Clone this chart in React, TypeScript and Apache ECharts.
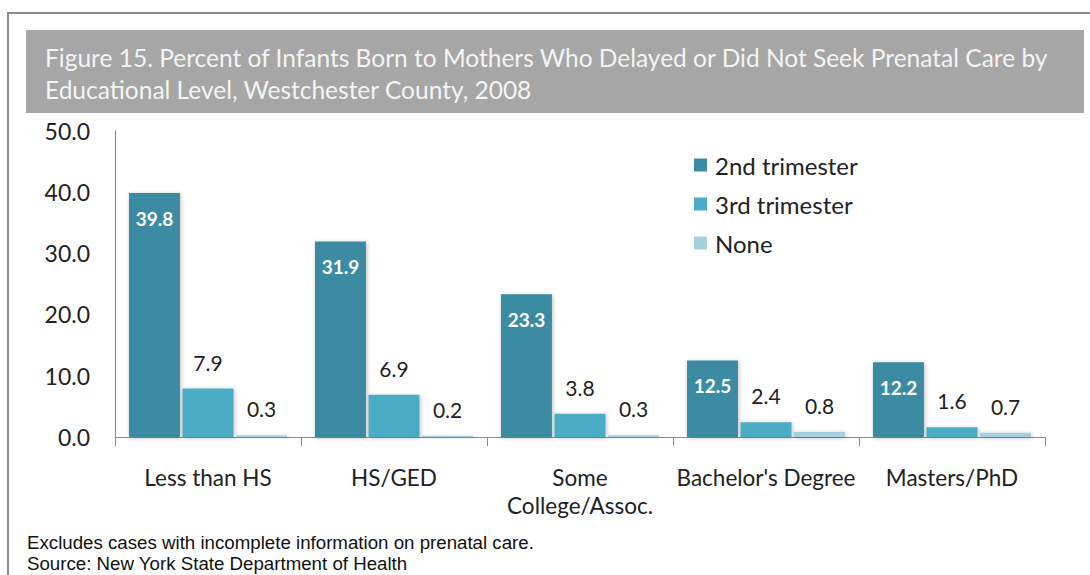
import React, { useEffect, useRef } from "react";
import * as echarts from "echarts";

const categories = ["Less than HS", "HS/GED", "Some\nCollege/Assoc.", "Bachelor's Degree", "Masters/PhD"];
const seriesNames = ["2nd trimester", "3rd trimester", "None"];
const secondTrimester = [39.8, 31.9, 23.3, 12.5, 12.2];
const thirdTrimester = [7.9, 6.9, 3.8, 2.4, 1.6];
const noneCare = [0.3, 0.2, 0.3, 0.8, 0.7];
const yTicks = { min: 0, max: 50, interval: 10 };

const titleLines = [
  "Figure 15. Percent of Infants Born to Mothers Who Delayed or Did Not Seek Prenatal Care by",
  "Educational Level, Westchester County, 2008",
];
const footnotes = [
  "Excludes cases with incomplete information on prenatal care.",
  "Source: New York State Department of Health",
];

const colors = ["#3b8ba2", "#4bacc6", "#a6d0e0"];
const FONT = "Lato, 'Open Sans', sans-serif";

export default function App() {
  const ref = useRef<HTMLDivElement>(null);
  useEffect(() => {
    if (!ref.current) return;
    const chart = echarts.init(ref.current, undefined, { renderer: "svg" });
    const fmt = (p: any) => Number(p.value).toFixed(1);
    const shadow = {
      shadowColor: "rgba(0,0,0,0.25)",
      shadowBlur: 4,
      shadowOffsetX: 1,
      shadowOffsetY: 1,
    };
    const outsideLabel = {
      show: true,
      position: "top",
      distance: 16,
      formatter: fmt,
      color: "#222",
      fontSize: 21,
      fontFamily: FONT,
    };
    chart.setOption({
      animation: false,
      backgroundColor: "#ffffff",
      textStyle: { fontFamily: FONT },
      graphic: [
        {
          type: "rect",
          shape: { x: 8, y: 13, width: 1200, height: 700 },
          style: { fill: "none", stroke: "#8a8a8a", lineWidth: 2 },
          silent: true,
        },
        {
          type: "rect",
          shape: { x: 26, y: 30, width: 1058, height: 83 },
          style: { fill: "#a6a6a6" },
          silent: true,
        },
        {
          type: "text",
          x: 45,
          y: 57,
          style: {
            text: titleLines[0],
            fill: "#f4f4f4",
            font: `24.5px ${FONT}`,
            textVerticalAlign: "middle",
          },
        },
        {
          type: "text",
          x: 45,
          y: 89,
          style: {
            text: titleLines[1],
            fill: "#f4f4f4",
            font: `24.5px ${FONT}`,
            textVerticalAlign: "middle",
          },
        },
        {
          type: "text",
          x: 27,
          y: 542,
          style: {
            text: footnotes[0],
            fill: "#111",
            font: "18.7px 'Liberation Sans', Arial, sans-serif",
            textVerticalAlign: "middle",
          },
        },
        {
          type: "text",
          x: 27,
          y: 563,
          style: {
            text: footnotes[1],
            fill: "#111",
            font: "18.7px 'Liberation Sans', Arial, sans-serif",
            textVerticalAlign: "middle",
          },
        },
      ],
      legend: {
        orient: "vertical",
        left: 689,
        top: 148,
        itemWidth: 13,
        itemHeight: 13,
        itemGap: 15,
        icon: "rect",
        data: seriesNames,
        textStyle: {
          color: "#222",
          fontSize: 24,
          fontFamily: FONT,
          lineHeight: 24,
          padding: [0, 0, 0, 3],
        },
      },
      grid: { left: 115, right: 45, top: 130.5, bottom: 138, containLabel: false },
      xAxis: {
        type: "category",
        data: categories,
        axisLine: { lineStyle: { color: "#8c8c8c", width: 1 } },
        axisTick: { show: true, length: 9, lineStyle: { color: "#8c8c8c" } },
        axisLabel: {
          color: "#222",
          fontSize: 22.5,
          fontFamily: FONT,
          margin: 26,
          lineHeight: 28,
          interval: 0,
        },
      },
      yAxis: {
        type: "value",
        min: yTicks.min,
        max: yTicks.max,
        interval: yTicks.interval,
        splitLine: { show: false },
        axisLine: { show: true, lineStyle: { color: "#8c8c8c", width: 1 } },
        axisTick: { show: false },
        axisLabel: {
          color: "#222",
          fontSize: 23,
          fontFamily: FONT,
          margin: 25,
          formatter: (v: number) => v.toFixed(1),
        },
      },
      series: [
        {
          name: seriesNames[0],
          type: "bar",
          data: secondTrimester,
          barWidth: 51,
          barGap: "5%",
          itemStyle: { color: colors[0], ...shadow },
          label: {
            show: true,
            position: "insideTop",
            distance: 16,
            formatter: fmt,
            color: "#ffffff",
            fontSize: 19,
            fontWeight: "bold",
            fontFamily: FONT,
          },
        },
        {
          name: seriesNames[1],
          type: "bar",
          data: thirdTrimester,
          barWidth: 51,
          barGap: "5%",
          itemStyle: { color: colors[1], ...shadow },
          label: outsideLabel,
        },
        {
          name: seriesNames[2],
          type: "bar",
          data: noneCare,
          barWidth: 51,
          barGap: "5%",
          itemStyle: { color: colors[2], ...shadow },
          label: outsideLabel,
        },
      ],
    });
    return () => chart.dispose();
  }, []);
  return (
    <div
      ref={ref}
      style={{ position: "fixed", left: 0, top: 0, width: 1090, height: 575 }}
    />
  );
}
